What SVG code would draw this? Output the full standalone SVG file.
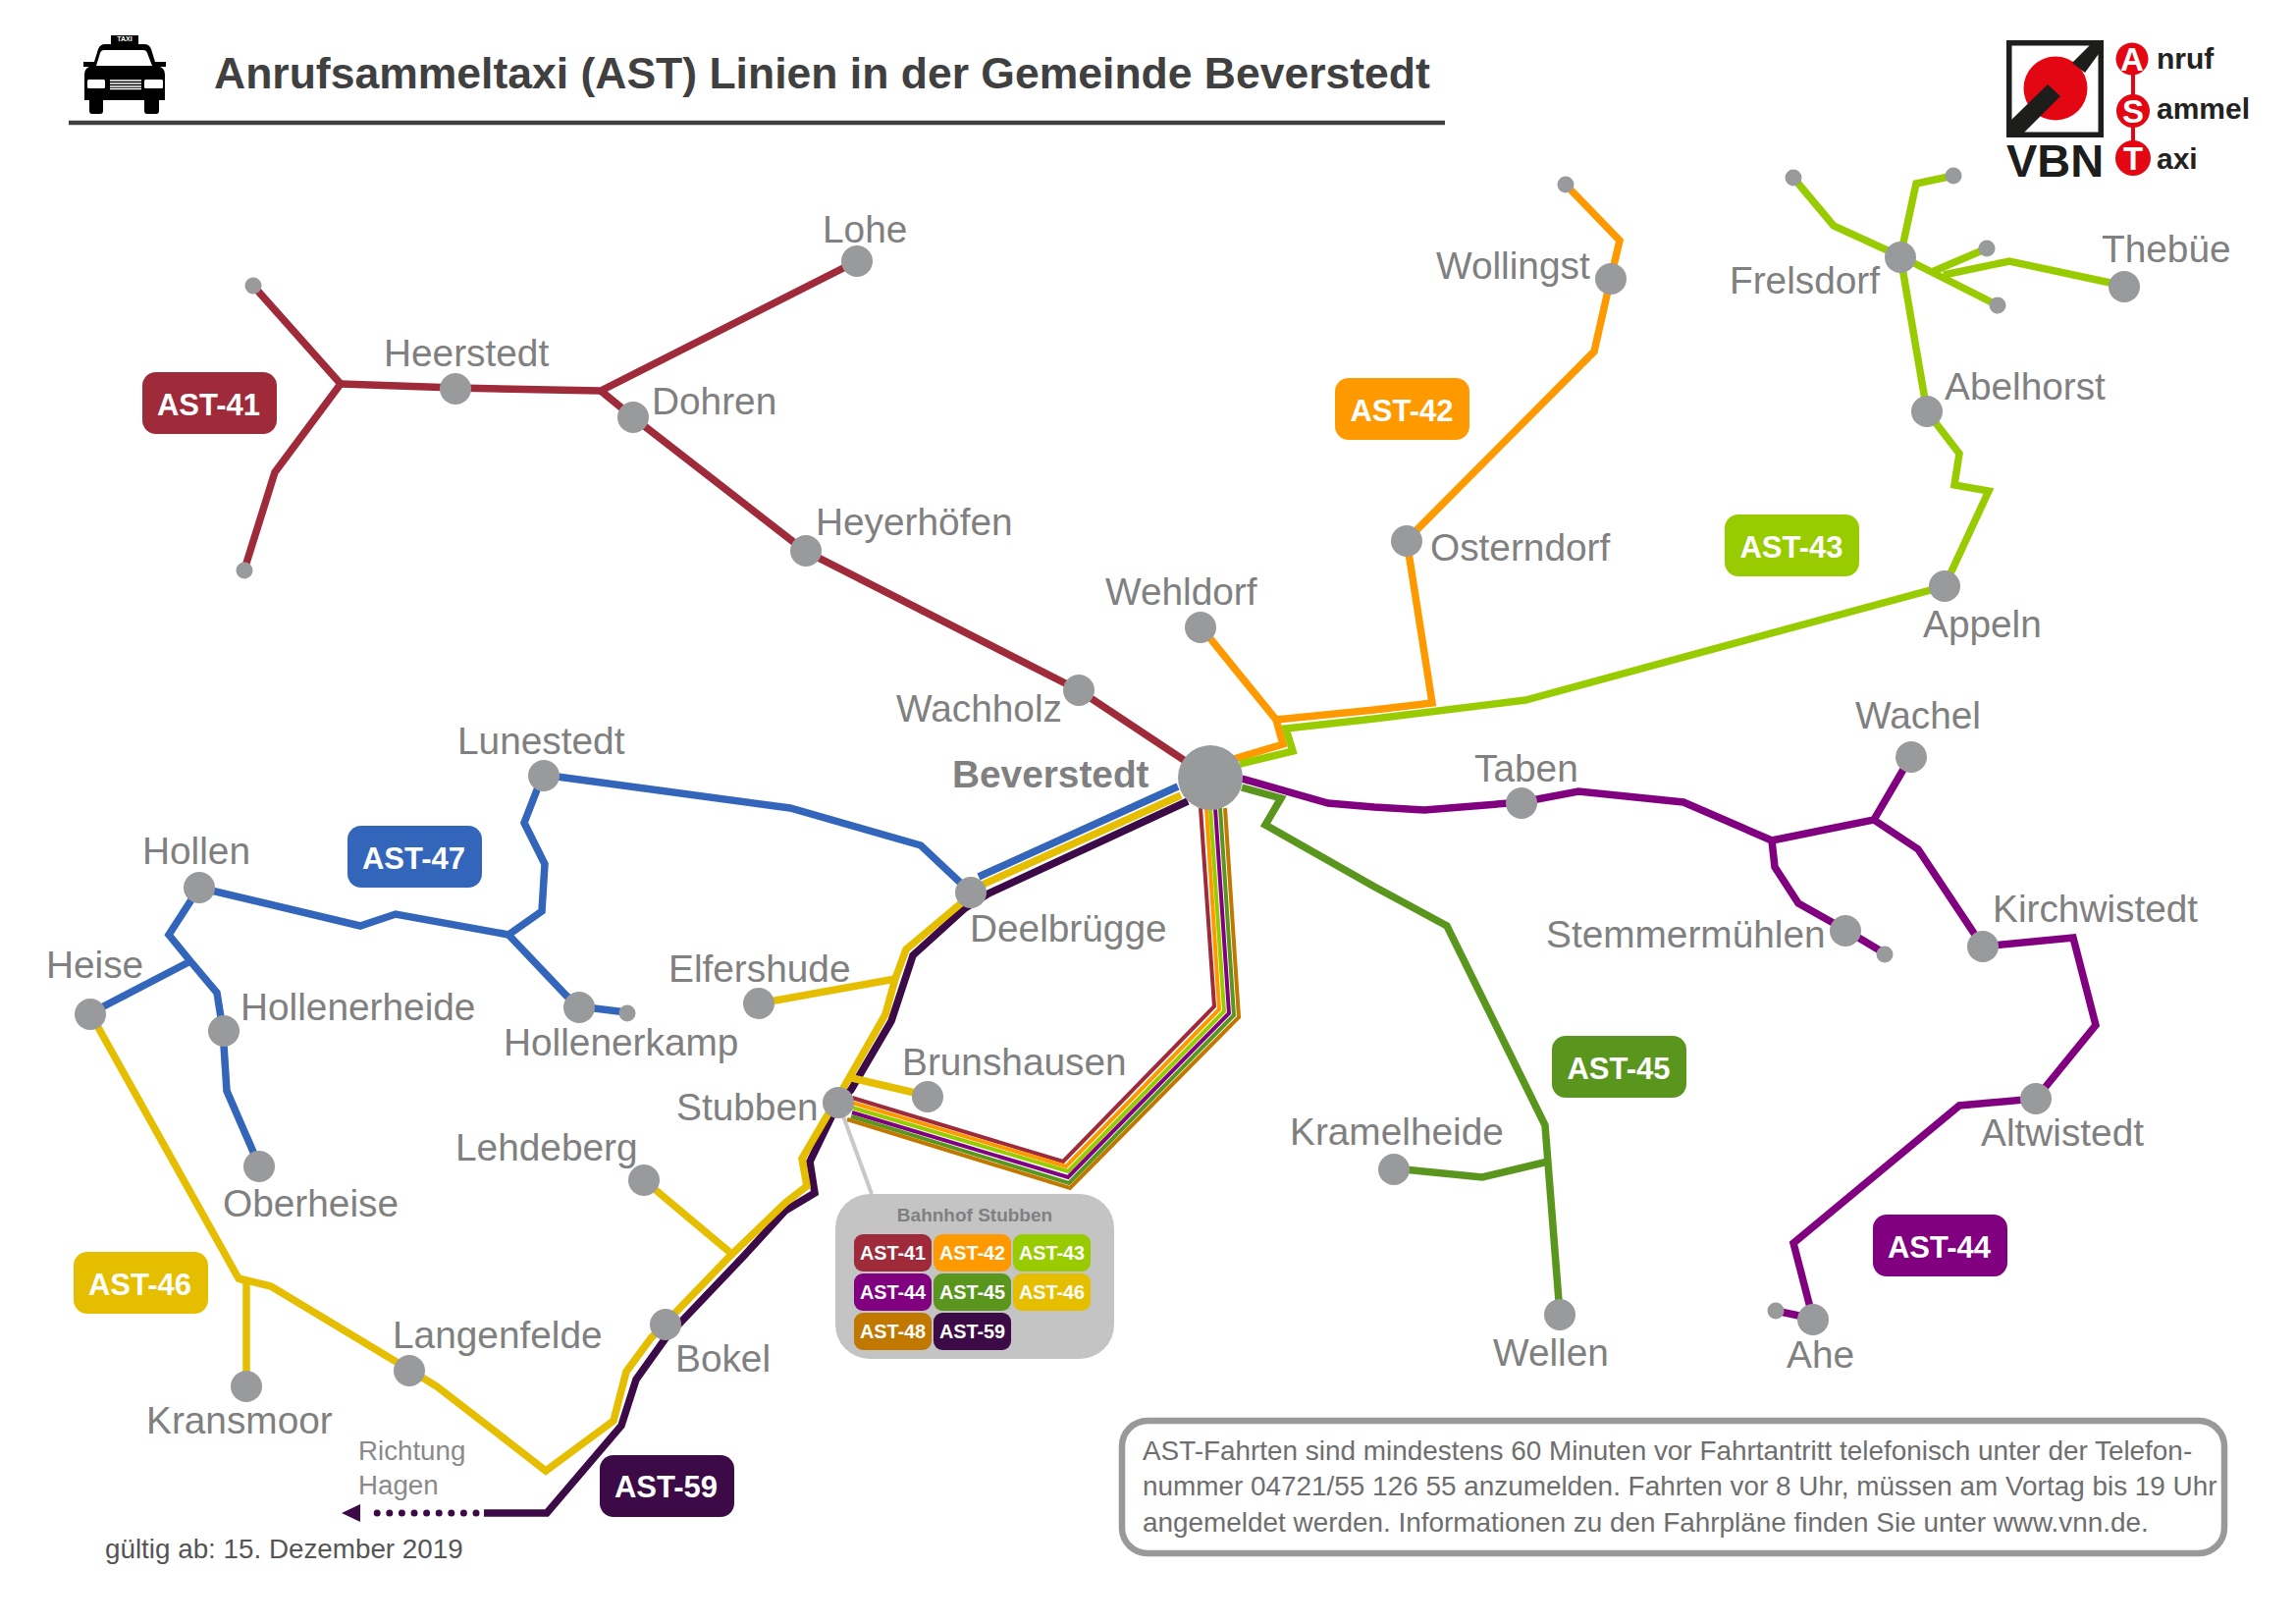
<svg xmlns="http://www.w3.org/2000/svg" width="2339" height="1654" viewBox="0 0 2339 1654">
<style>
text{font-family:"Liberation Sans",Arial,sans-serif}
.l{fill:none;stroke-width:7.500}
.b{fill:none;stroke-width:4}
.c41{stroke:#9e2a3a}.c42{stroke:#ff9900}.c43{stroke:#99cc00}.c44{stroke:#800080}.c45{stroke:#5a961e}.c46{stroke:#e6be00}.c47{stroke:#3366bb}.c48{stroke:#c07800}.c59{stroke:#3c0a46}
.f41{fill:#9e2a3a}.f42{fill:#ff9900}.f43{fill:#99cc00}.f44{fill:#800080}.f45{fill:#5a961e}.f46{fill:#e6be00}.f47{fill:#3366bb}.f48{fill:#c07800}.f59{fill:#3c0a46}
.n{fill:#999a9c}
.t{font-size:38.800px;fill:#808080}
.tag{font-size:31px;font-weight:bold;fill:#fff;text-anchor:middle}
.chip{font-size:19.800px;font-weight:bold;fill:#fff;text-anchor:middle}
.note{font-size:27.900px;fill:#6e6e6e}
.logo{font-size:30px;font-weight:bold;fill:#222}
.ltr{font-size:33px;font-weight:bold;fill:#fff;text-anchor:middle}
</style>
<g id="header">
<path d="M113 36h28v9h6q5 0 7 5l4 13h11v5h-6q5 2 5 8v26h-6v11q0 3-3 3h-9q-3 0-3-3v-11H105v11q0 3-3 3h-8q-3 0-3-3v-11h-5V76q0-6 5-8h-6v-5h11l4-13q2-5 7-5h6z" fill="#000"/>
<path d="M106 51h40q3 0 4 3l5 13H98l4-13q1-3 4-3z" fill="#fff"/>
<rect x="89" y="81" width="18" height="9" rx="1.500" fill="#fff"/><rect x="147" y="81" width="19" height="9" rx="1.500" fill="#fff"/>
<path d="M112 82h32M112 85h32M112 88h32M112 90.500h32" stroke="#fff" stroke-width="1.300" fill="none"/>
<text x="127" y="42" font-size="7" font-weight="bold" fill="#fff" text-anchor="middle">TAXI</text>
<text x="218" y="90" font-size="44.500px" font-weight="bold" fill="#404040">Anrufsammeltaxi (AST) Linien in der Gemeinde Beverstedt</text>
<path d="M70 125H1472" stroke="#404040" stroke-width="4.500" fill="none"/>
</g>
<g id="logo">
<rect x="2046.750" y="43.750" width="93.500" height="93.500" fill="#fff" stroke="#1d1d1b" stroke-width="5.500"/>
<circle cx="2094" cy="90" r="32.500" fill="#e30613"/>
<polygon points="2111,64 2131,44 2140,44 2140,52 2124,74" fill="#1d1d1b"/>
<polygon points="2086,86 2099,98 2060,137 2047,137 2047,124" fill="#1d1d1b"/>
<text x="2044" y="180" font-size="47" font-weight="bold" fill="#1d1d1b">VBN</text>
<path d="M2173 60V162" stroke="#e30613" stroke-width="4" fill="none"/>
<circle cx="2172" cy="60" r="16.500" fill="#e30613"/><circle cx="2173" cy="113" r="17" fill="#e30613"/><circle cx="2173" cy="161" r="18" fill="#e30613"/>
<text x="2172" y="72" class="ltr">A</text><text x="2173" y="125" class="ltr">S</text><text x="2173" y="173" class="ltr">T</text>
<text x="2197" y="70" class="logo">nruf</text><text x="2197" y="121" class="logo">ammel</text><text x="2197" y="172" class="logo">axi</text>
</g>
<g id="connectors">
<polyline class="l c41" points="258,291 347,391 280,481 249,580"/>
<polyline class="l c41" points="347,391 464,395 612,398 873,266"/>
<polyline class="l c41" points="612,398 645,425 820,561 1099,703 1233,792"/>
<polyline class="l c42" points="1223,638 1300,733 1307,758 1257,773"/>
<polyline class="l c42" points="1300,733 1400,723 1459,716 1433,550 1624,358 1641,283 1650,245 1595,188"/>
<polyline class="l c43" points="1263,778 1317,765 1310,742 1400,732 1554,713 1981,597 2026,500 1991,494 1996,462 1963,419 1936,261 1952,187 1990,179"/>
<polyline class="l c43" points="1936,261 1868,230 1827,181"/>
<polyline class="l c43" points="1936,261 2035,311"/>
<polyline class="l c43" points="1968,277 2024,253"/>
<polyline class="l c43" points="1980,280 2047,266 2164,291"/>
<polyline class="l c44" points="1265,793 1353,818 1400,822 1451,825 1550,817 1608,806 1715,817 1805,856 1909,835 1947,770"/>
<polyline class="l c44" points="1909,835 1954,865 2020,964 2112,955 2135,1044 2074,1119 1996,1126 1827,1266 1847,1343 1809,1335"/>
<polyline class="l c44" points="1805,856 1808,883 1832,920 1880,947 1920,971"/>
<polyline class="l c45" points="1265,802 1305,813 1289,840 1400,903 1474,943 1574,1146 1589,1338"/>
<polyline class="l c45" points="1577,1183 1510,1199 1420,1190"/>
<polyline class="l c47" points="1200,801 997,893"/>
<polyline class="l c47" points="553,789 805,823 938,861 989,909"/>
<polyline class="l c47" points="553,789 534,838 555,880 552,928 518,952 403,931 367,943 203,904 172,952 194,979 221,1011 227,1049 231,1111 264,1187"/>
<polyline class="l c47" points="518,952 577,1014 589,1025 638,1031"/>
<polyline class="l c47" points="92,1032 194,979"/>
<polyline class="b c41" points="1223,823 1237,1025 1083,1183 868,1118"/>
<polyline class="b c42" points="1229,823 1242,1028 1086,1188 868,1123"/>
<polyline class="b c43" points="1233,823 1247,1030 1088,1193 868,1128"/>
<polyline class="b c44" points="1238,823 1252,1032 1088,1199 868,1133"/>
<polyline class="b c45" points="1243,823 1257,1034 1089,1205 867,1137"/>
<polyline class="b c48" points="1248,823 1262,1036 1090,1210 863,1140"/>
<polyline class="l c59" points="1210,816 1007,910 983,925 930,973 908,1040 867,1110 854,1123 825,1183 830,1215 800,1233 757,1280 678,1363 648,1405 633,1452 557,1541 493,1541"/>
<path class="c59" d="M485 1541H373" fill="none" stroke-width="7" stroke-linecap="round" stroke-dasharray="0 12.600"/>
<polygon class="f59" points="348,1541 367,1532 367,1550"/>
<polyline class="l c46" points="1203,810 1003,900 923,967 912,997 902,1033 858,1110 817,1180 822,1208 800,1225 743,1280 663,1363 638,1397 625,1447 556,1498 445,1412 417,1395 276,1310 243,1302 92,1032"/>
<polyline class="l c46" points="243,1302 251,1305 251,1411"/>
<polyline class="l c46" points="656,1202 743,1275"/>
<polyline class="l c46" points="773,1022 912,997"/>
<polyline class="l c46" points="868,1098 945,1116"/>
<path d="M854 1123L888 1216" stroke="#c8c8c8" stroke-width="4" fill="none"/>
</g>
<g id="node-stop-1"><circle class="n" cx="258" cy="291" r="8.500"/></g>
<g id="node-stop-2"><circle class="n" cx="249" cy="581" r="8.500"/></g>
<g id="node-stop-3"><circle class="n" cx="1595" cy="188" r="8.500"/></g>
<g id="node-stop-4"><circle class="n" cx="1827" cy="181" r="8.500"/></g>
<g id="node-stop-5"><circle class="n" cx="1990" cy="179" r="8.500"/></g>
<g id="node-stop-6"><circle class="n" cx="2024" cy="253" r="8.500"/></g>
<g id="node-stop-7"><circle class="n" cx="2035" cy="311" r="8.500"/></g>
<g id="node-stop-8"><circle class="n" cx="1920" cy="972" r="8.500"/></g>
<g id="node-stop-9"><circle class="n" cx="1809" cy="1335" r="8.500"/></g>
<g id="node-stop-10"><circle class="n" cx="639" cy="1032" r="8.500"/></g>
<g id="node-lohe"><circle class="n" cx="873" cy="266" r="16"/><text class="t" x="838" y="247">Lohe</text></g>
<g id="node-heerstedt"><circle class="n" cx="464" cy="396" r="16"/><text class="t" x="391" y="373">Heerstedt</text></g>
<g id="node-dohren"><circle class="n" cx="645" cy="425" r="16"/><text class="t" x="664" y="422">Dohren</text></g>
<g id="node-heyerhoefen"><circle class="n" cx="821" cy="561" r="16"/><text class="t" x="831" y="545">Heyerhöfen</text></g>
<g id="node-wachholz"><circle class="n" cx="1099" cy="703" r="16"/><text class="t" x="913" y="735">Wachholz</text></g>
<g id="node-wehldorf"><circle class="n" cx="1223" cy="639" r="16"/><text class="t" x="1126" y="616">Wehldorf</text></g>
<g id="node-beverstedt"><circle class="n" cx="1233" cy="792" r="33"/><text class="t" x="970" y="802" font-weight="bold">Beverstedt</text></g>
<g id="node-wollingst"><circle class="n" cx="1641" cy="284" r="16"/><text class="t" x="1463" y="284">Wollingst</text></g>
<g id="node-osterndorf"><circle class="n" cx="1433" cy="551" r="16"/><text class="t" x="1457" y="571">Osterndorf</text></g>
<g id="node-frelsdorf"><circle class="n" cx="1936" cy="262" r="16"/><text class="t" x="1762" y="299">Frelsdorf</text></g>
<g id="node-thebuee"><circle class="n" cx="2164" cy="292" r="16"/><text class="t" x="2141" y="267">Thebüe</text></g>
<g id="node-abelhorst"><circle class="n" cx="1963" cy="419" r="16"/><text class="t" x="1981" y="407">Abelhorst</text></g>
<g id="node-appeln"><circle class="n" cx="1981" cy="597" r="16"/><text class="t" x="1959" y="649">Appeln</text></g>
<g id="node-taben"><circle class="n" cx="1550" cy="818" r="16"/><text class="t" x="1502" y="796">Taben</text></g>
<g id="node-wachel"><circle class="n" cx="1947" cy="771" r="16"/><text class="t" x="1890" y="742">Wachel</text></g>
<g id="node-stemmermuehlen"><circle class="n" cx="1880" cy="948" r="16"/><text class="t" x="1575" y="965">Stemmermühlen</text></g>
<g id="node-kirchwistedt"><circle class="n" cx="2020" cy="964" r="16"/><text class="t" x="2030" y="939">Kirchwistedt</text></g>
<g id="node-altwistedt"><circle class="n" cx="2074" cy="1119" r="16"/><text class="t" x="2018" y="1167">Altwistedt</text></g>
<g id="node-ahe"><circle class="n" cx="1847" cy="1344" r="16"/><text class="t" x="1820" y="1393">Ahe</text></g>
<g id="node-wellen"><circle class="n" cx="1589" cy="1339" r="16"/><text class="t" x="1521" y="1391">Wellen</text></g>
<g id="node-kramelheide"><circle class="n" cx="1420" cy="1191" r="16"/><text class="t" x="1314" y="1166">Kramelheide</text></g>
<g id="node-deelbruegge"><circle class="n" cx="989" cy="909" r="16"/><text class="t" x="988" y="959">Deelbrügge</text></g>
<g id="node-brunshausen"><circle class="n" cx="945" cy="1117" r="16"/><text class="t" x="919" y="1095">Brunshausen</text></g>
<g id="node-stubben"><circle class="n" cx="854" cy="1123" r="16"/><text class="t" x="689" y="1141">Stubben</text></g>
<g id="node-elfershude"><circle class="n" cx="773" cy="1022" r="16"/><text class="t" x="681" y="1000">Elfershude</text></g>
<g id="node-lehdeberg"><circle class="n" cx="656" cy="1202" r="16"/><text class="t" x="464" y="1182">Lehdeberg</text></g>
<g id="node-lunestedt"><circle class="n" cx="554" cy="790" r="16"/><text class="t" x="466" y="768">Lunestedt</text></g>
<g id="node-hollen"><circle class="n" cx="203" cy="904" r="16"/><text class="t" x="145" y="880">Hollen</text></g>
<g id="node-heise"><circle class="n" cx="92" cy="1033" r="16"/><text class="t" x="47" y="996">Heise</text></g>
<g id="node-hollenerheide"><circle class="n" cx="228" cy="1050" r="16"/><text class="t" x="245" y="1039">Hollenerheide</text></g>
<g id="node-hollenerkamp"><circle class="n" cx="590" cy="1026" r="16"/><text class="t" x="513" y="1075">Hollenerkamp</text></g>
<g id="node-oberheise"><circle class="n" cx="264" cy="1188" r="16"/><text class="t" x="227" y="1239">Oberheise</text></g>
<g id="node-langenfelde"><circle class="n" cx="417" cy="1396" r="16"/><text class="t" x="400" y="1373">Langenfelde</text></g>
<g id="node-bokel"><circle class="n" cx="678" cy="1349" r="16"/><text class="t" x="688" y="1397">Bokel</text></g>
<g id="node-kransmoor"><circle class="n" cx="251" cy="1412" r="16"/><text class="t" x="149" y="1460">Kransmoor</text></g>
<g id="tags">
<rect class="f41" x="145" y="379" width="137" height="63" rx="14"/><text class="tag" x="212.500" y="423">AST-41</text>
<rect class="f42" x="1360" y="385" width="137" height="63" rx="14"/><text class="tag" x="1428" y="429">AST-42</text>
<rect class="f43" x="1757" y="524" width="137" height="63" rx="14"/><text class="tag" x="1825" y="568">AST-43</text>
<rect class="f44" x="1908" y="1237" width="137" height="63" rx="14"/><text class="tag" x="1975.500" y="1281">AST-44</text>
<rect class="f45" x="1581" y="1055" width="137" height="63" rx="14"/><text class="tag" x="1649" y="1099">AST-45</text>
<rect class="f46" x="75" y="1275" width="137" height="63" rx="14"/><text class="tag" x="142.500" y="1319">AST-46</text>
<rect class="f47" x="354" y="841" width="137" height="63" rx="14"/><text class="tag" x="421.500" y="885">AST-47</text>
<rect class="f59" x="611" y="1482" width="137" height="63" rx="14"/><text class="tag" x="678.500" y="1525">AST-59</text>
</g>
<g id="bahnhof-stubben">
<rect x="851" y="1216" width="284" height="168" rx="35" fill="#c4c4c4"/>
<text x="993" y="1244" font-size="19px" font-weight="bold" fill="#808080" text-anchor="middle">Bahnhof Stubben</text>
<rect class="f41" x="870" y="1257" width="79" height="38" rx="9"/><text class="chip" x="909.500" y="1283">AST-41</text>
<rect class="f42" x="951" y="1257" width="79" height="38" rx="9"/><text class="chip" x="990.500" y="1283">AST-42</text>
<rect class="f43" x="1032" y="1257" width="79" height="38" rx="9"/><text class="chip" x="1071.500" y="1283">AST-43</text>
<rect class="f44" x="870" y="1297" width="79" height="38" rx="9"/><text class="chip" x="909.500" y="1323">AST-44</text>
<rect class="f45" x="951" y="1297" width="79" height="38" rx="9"/><text class="chip" x="990.500" y="1323">AST-45</text>
<rect class="f46" x="1032" y="1297" width="79" height="38" rx="9"/><text class="chip" x="1071.500" y="1323">AST-46</text>
<rect class="f48" x="870" y="1337" width="79" height="38" rx="9"/><text class="chip" x="909.500" y="1363">AST-48</text>
<rect class="f59" x="951" y="1337" width="79" height="38" rx="9"/><text class="chip" x="990.500" y="1363">AST-59</text>
</g>
<g id="richtung">
<text x="365" y="1487" font-size="27.700px" fill="#8a8a8a">Richtung</text>
<text x="365" y="1522" font-size="27.700px" fill="#8a8a8a">Hagen</text>
</g>
<text x="107" y="1587" font-size="27.800px" fill="#555">gültig ab: 15. Dezember 2019</text>
<g id="note">
<rect x="1143" y="1447" width="1123" height="135" rx="26" fill="#fff" stroke="#999" stroke-width="6.500"/>
<text class="note" x="1164" y="1487">AST-Fahrten sind mindestens 60 Minuten vor Fahrtantritt telefonisch unter der Telefon-</text>
<text class="note" x="1164" y="1523">nummer 04721/55 126 55 anzumelden. Fahrten vor 8 Uhr, müssen am Vortag bis 19 Uhr</text>
<text class="note" x="1164" y="1560">angemeldet werden. Informationen zu den Fahrpläne finden Sie unter www.vnn.de.</text>
</g>
</svg>
